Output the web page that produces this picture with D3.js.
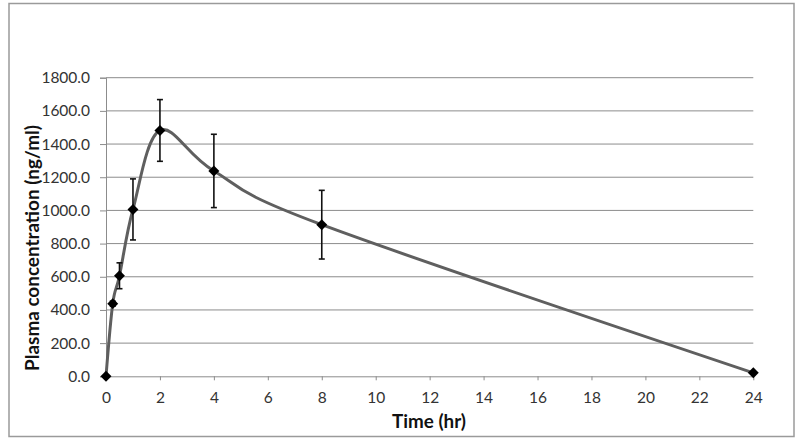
<!DOCTYPE html>
<html><head><meta charset="utf-8">
<script src="https://cdn.jsdelivr.net/npm/d3@7"></script>
<style>body{margin:0;background:#fff}svg{display:block}</style>
</head><body>
<svg id="c" width="800" height="446"></svg>
<script>
const timeHr = [0, 0.25, 0.5, 1, 2, 4, 8, 24];
const concentration = [0, 438, 606, 1006, 1482, 1238, 914, 21];
const sd = [0, 15, 78, 184, 186, 221, 207, 0];
const xTicks = [0, 2, 4, 6, 8, 10, 12, 14, 16, 18, 20, 22, 24];
const yTicks = [0, 200, 400, 600, 800, 1000, 1200, 1400, 1600, 1800];
const xTitle = "Time (hr)";
const yTitle = "Plasma concentration (ng/ml)";

const data = timeHr.map((t, i) => ({t, c: concentration[i], e: sd[i]}));
const svg = d3.select("#c");
const font = "Lato, 'Open Sans', sans-serif";

// chart frame
svg.append("rect").attr("x", 9).attr("y", 3.5).attr("width", 785).attr("height", 433)
  .attr("fill", "#fff").attr("stroke", "#9a9a9a").attr("stroke-width", 1.5);

const x = d3.scaleLinear().domain([0, 24]).range([106, 753.3]);
const y = d3.scaleLinear().domain([0, 1800]).range([376.3, 77.7]);

// gridlines
svg.append("g").selectAll("line").data(yTicks.filter(v => v > 0)).join("line")
  .attr("x1", x(0)).attr("x2", x(24)).attr("y1", d => y(d)).attr("y2", d => y(d))
  .attr("stroke", "#8c8c8c").attr("stroke-width", 1);

// y axis
const yAxis = svg.append("g").attr("transform", `translate(${x(0)},0)`)
  .call(d3.axisLeft(y).tickValues(yTicks).tickFormat(d3.format(".1f")).tickSize(6).tickPadding(10));
yAxis.select(".domain").attr("stroke", "#8c8c8c");
yAxis.selectAll(".tick line").attr("stroke", "#8c8c8c");
yAxis.selectAll("text").attr("font-family", font).attr("font-size", 15.5).attr("fill", "#333");

// x axis
const xAxis = svg.append("g").attr("transform", `translate(0,${y(0)})`)
  .call(d3.axisBottom(x).tickValues(xTicks).tickFormat(d3.format("d")).tickSizeInner(4).tickSizeOuter(0).tickPadding(12));
xAxis.select(".domain").attr("stroke", "#8c8c8c");
xAxis.selectAll(".tick line").attr("stroke", "#8c8c8c");
xAxis.selectAll("text").attr("font-family", font).attr("font-size", 15.5).attr("fill", "#333");

// curve
svg.append("path").datum(data)
  .attr("d", d3.line().x(d => x(d.t)).y(d => y(d.c)).curve(d3.curveCardinal.tension(0)))
  .attr("fill", "none").attr("stroke", "#5f5f5f").attr("stroke-width", 3);

// error bars
const eb = svg.append("g").selectAll("g").data(data.filter(d => d.e > 0)).join("g")
  .attr("stroke", "#111").attr("stroke-width", 1.6);
eb.append("line").attr("x1", d => x(d.t)).attr("x2", d => x(d.t))
  .attr("y1", d => y(d.c - d.e)).attr("y2", d => y(d.c + d.e));
eb.append("line").attr("x1", d => x(d.t) - 3).attr("x2", d => x(d.t) + 3)
  .attr("y1", d => y(d.c + d.e)).attr("y2", d => y(d.c + d.e));
eb.append("line").attr("x1", d => x(d.t) - 3).attr("x2", d => x(d.t) + 3)
  .attr("y1", d => y(d.c - d.e)).attr("y2", d => y(d.c - d.e));

// markers
svg.append("g").selectAll("path").data(data).join("path")
  .attr("d", d3.symbol(d3.symbolSquare, 60))
  .attr("transform", d => `translate(${x(d.t)},${y(d.c)}) rotate(45)`)
  .attr("fill", "#000");

// titles (sized to match the original text extents)
function fitText(sel, target) {
  const len = sel.node().getComputedTextLength();
  sel.attr("font-size", 16 * target / len);
}
const xt = svg.append("text").attr("x", 429).attr("y", 428).attr("text-anchor", "middle")
  .attr("font-family", font).attr("font-weight", "bold").attr("font-size", 16).attr("fill", "#111")
  .text(xTitle);
fitText(xt, 74);
const yt = svg.append("text").attr("transform", "translate(39,248) rotate(-90)").attr("text-anchor", "middle")
  .attr("font-family", font).attr("font-weight", "bold").attr("font-size", 16).attr("fill", "#111")
  .text(yTitle);
fitText(yt, 246);
</script>
</body></html>
